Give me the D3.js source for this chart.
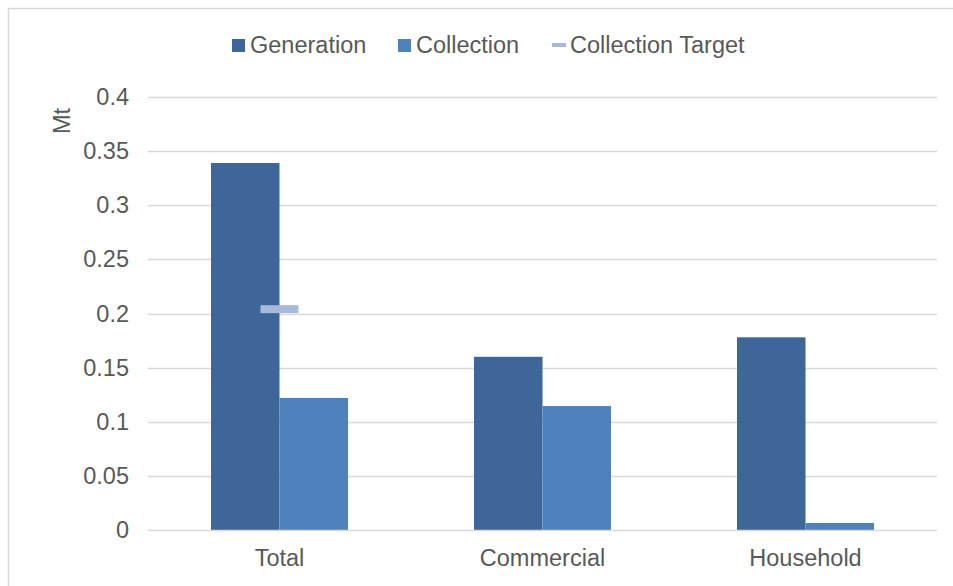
<!DOCTYPE html>
<html>
<head>
<meta charset="utf-8">
<script src="https://cdn.jsdelivr.net/npm/d3@7"></script>
<style>
  html, body { margin: 0; padding: 0; background: #fff; }
  svg { display: block; font-family: "Liberation Sans", Arial, sans-serif; }
</style>
</head>
<body>
<svg id="chart" width="953" height="586"></svg>
<script>
// Waste generation vs. collection by sector (Mt)
const categories = ["Total", "Commercial", "Household"];
const generation = [0.339, 0.160, 0.178];
const collection = [0.122, 0.1145, 0.0065];
const collectionTarget = [0.204, null, null];
const yTicks = [0, 0.05, 0.1, 0.15, 0.2, 0.25, 0.3, 0.35, 0.4];
const seriesNames = ["Generation", "Collection", "Collection Target"];

const colors = { gen: "#3e6699", col: "#4f81bd", target: "#a8b9dc", text: "#595959", grid: "#d9d9d9" };
const fontSize = 23.5;

const svg = d3.select("#chart");
const W = 953, H = 586;
const plot = { left: 148, right: 937, top: 97, bottom: 530 };

// chart frame
svg.append("path")
  .attr("d", `M8.5,${H} V8.5 H${W}`)
  .attr("fill", "none").attr("stroke", colors.grid).attr("stroke-width", 1.5);

const y = d3.scaleLinear().domain([0, 0.4]).range([plot.bottom, plot.top]);
const x0 = d3.scaleBand().domain(categories).range([plot.left, plot.right])
  .paddingInner(0.479).paddingOuter(0.2395);
const x1 = d3.scaleBand().domain(["gen", "col"]).range([0, x0.bandwidth()]);

// gridlines
svg.append("g").selectAll("line").data(yTicks.filter(t => t > 0)).join("line")
  .attr("x1", plot.left).attr("x2", plot.right)
  .attr("y1", d => Math.round(y(d)) + 0.5).attr("y2", d => Math.round(y(d)) + 0.5)
  .attr("stroke", colors.grid).attr("stroke-width", 1.3);

// y axis labels
const yAxis = d3.axisLeft(y).tickValues(yTicks).tickFormat(d => String(d)).tickSize(0).tickPadding(0);
const yg = svg.append("g").attr("transform", `translate(129,0)`).call(yAxis);
yg.select(".domain").remove();
yg.selectAll("text").attr("fill", colors.text).attr("font-size", fontSize)
  .attr("font-family", "Liberation Sans, Arial, sans-serif");

// y axis title
svg.append("text")
  .attr("transform", `translate(70,121) rotate(-90)`)
  .attr("text-anchor", "middle").attr("fill", colors.text).attr("font-size", fontSize)
  .text("Mt");

// bars
const groups = svg.append("g").selectAll("g").data(categories).join("g")
  .attr("transform", d => `translate(${x0(d)},0)`);

groups.append("rect")
  .attr("x", x1("gen")).attr("width", x1.bandwidth())
  .attr("y", (d, i) => y(generation[i])).attr("height", (d, i) => y(0) - y(generation[i]))
  .attr("fill", colors.gen);

groups.append("rect")
  .attr("x", x1("col")).attr("width", x1.bandwidth())
  .attr("y", (d, i) => y(collection[i])).attr("height", (d, i) => y(0) - y(collection[i]))
  .attr("fill", colors.col);

// x axis baseline
svg.append("line")
  .attr("x1", plot.left).attr("x2", plot.right)
  .attr("y1", plot.bottom + 0.5).attr("y2", plot.bottom + 0.5)
  .attr("stroke", colors.grid).attr("stroke-width", 1.5);

// collection target markers
const targetW = 38;
svg.append("g").selectAll("rect")
  .data(categories.map((c, i) => ({ c, v: collectionTarget[i] })).filter(d => d.v != null))
  .join("rect")
  .attr("x", d => x0(d.c) + x0.bandwidth() / 2 - targetW / 2)
  .attr("y", d => y(d.v) - 4).attr("width", targetW).attr("height", 8)
  .attr("fill", colors.target);

// x axis labels
const xAxis = d3.axisBottom(x0).tickSize(0).tickPadding(0);
const xg = svg.append("g").attr("transform", `translate(0,${plot.bottom + 28})`).call(xAxis);
xg.select(".domain").remove();
xg.selectAll("text").attr("fill", colors.text).attr("font-size", fontSize)
  .attr("font-family", "Liberation Sans, Arial, sans-serif").attr("dy", "0.35em").attr("y", 0);

// legend
const legend = svg.append("g");
const legendItems = [
  { name: seriesNames[0], color: colors.gen, type: "box", x: 232 },
  { name: seriesNames[1], color: colors.col, type: "box", x: 398 },
  { name: seriesNames[2], color: colors.target, type: "line", x: 552 }
];
legendItems.forEach(it => {
  const g = legend.append("g").attr("transform", `translate(${it.x},45)`);
  if (it.type === "box") {
    g.append("rect").attr("x", 0).attr("y", -6).attr("width", 13).attr("height", 13).attr("fill", it.color);
  } else {
    g.append("rect").attr("x", 0).attr("y", -2).attr("width", 14).attr("height", 4).attr("fill", it.color);
  }
  g.append("text").attr("x", it.type === "box" ? 18 : 18).attr("y", 0).attr("dy", "0.35em")
    .attr("fill", colors.text).attr("font-size", fontSize).text(it.name);
});
</script>
</body>
</html>
